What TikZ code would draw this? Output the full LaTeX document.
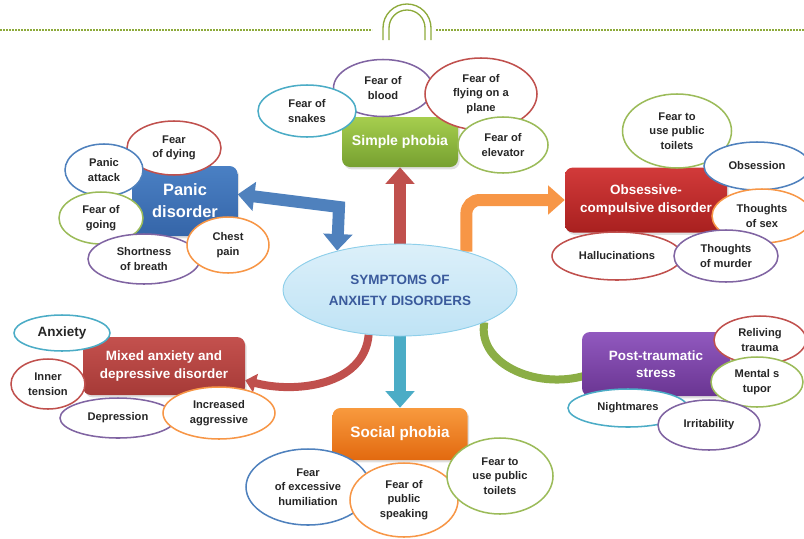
\documentclass[tikz,border=0pt]{standalone}
\usepackage{fontspec}
\setmainfont{Liberation Sans}
\usetikzlibrary{shapes.geometric,arrows.meta,shadows,backgrounds}

\definecolor{ofBlue}{HTML}{4F81BD}
\definecolor{ofRed}{HTML}{C0504D}
\definecolor{ofGreen}{HTML}{9BBB59}
\definecolor{ofPurple}{HTML}{8064A2}
\definecolor{ofCyan}{HTML}{4BACC6}
\definecolor{ofOrange}{HTML}{F79646}
\definecolor{lineGreen}{HTML}{8DAA3B}
\definecolor{hubFill}{HTML}{BFE3F5}
\definecolor{hubEdge}{HTML}{8ECFEA}
\definecolor{hubText}{HTML}{3A5A9C}
% box gradients (top / bottom)
\definecolor{panicTop}{HTML}{4A80C4}   \definecolor{panicBot}{HTML}{3565A8}
\definecolor{simpleTop}{HTML}{A6CE4E}  \definecolor{simpleBot}{HTML}{76A030}
\definecolor{ocdTop}{HTML}{D23A3A}     \definecolor{ocdBot}{HTML}{A8201F}
\definecolor{mixedTop}{HTML}{C4514E}   \definecolor{mixedBot}{HTML}{A63A37}
\definecolor{ptsdTop}{HTML}{9159BF}    \definecolor{ptsdBot}{HTML}{6A3592}
\definecolor{socialTop}{HTML}{F89A3E}  \definecolor{socialBot}{HTML}{E2690F}
\definecolor{curveGreen}{HTML}{8BAE45}

\begin{document}
\begin{tikzpicture}[x=0.3mm, y=-0.3mm,
  sz/.style 2 args={minimum width=#1*0.3mm, minimum height=#2*0.3mm},
  bubble/.style={ellipse, draw=#1, line width=1.3pt, fill=white, inner sep=0pt,
    align=center, text=black!85, font=\fontsize{9.5}{12.5}\selectfont\bfseries},
  topic/.style={rounded corners=2.4mm, top color=#1Top, bottom color=#1Bot, text=white,
    align=center, inner sep=0pt, font=\fontsize{11.5}{15}\selectfont\bfseries,
    drop shadow={opacity=0.25, shadow xshift=0.5mm, shadow yshift=-0.7mm}},
  hub/.style={ellipse, sz={234}{92}, top color=hubFill!55!white, bottom color=hubFill,
    draw=hubEdge, line width=0.8pt, text=hubText, align=center, inner sep=0pt,
    font=\fontsize{11.5}{18}\selectfont\bfseries},
  bigarrow/.style={line width=3.6mm, -{Triangle[length=5mm, width=8.5mm]}},
  curvearrow/.style={line width=2.4mm, -{Triangle[length=3.2mm, width=5.6mm]}}]

  \useasboundingbox (0,0) rectangle (804,538);

  % Header rule with the double arch
  \draw[lineGreen, line width=0.4mm, dash pattern=on 0.6mm off 0.3mm]
    (0,30) -- (372,30) (436,30) -- (804,30);
  \draw[lineGreen, line width=0.4mm]
    (383,40) -- (383,28) .. controls (383,14.7) and (393.7,4) .. (407,4)
    .. controls (420.3,4) and (431,14.7) .. (431,28) -- (431,40);
  \draw[lineGreen, line width=0.4mm]
    (389,40) -- (389,28) .. controls (389,18) and (397,10) .. (407,10)
    .. controls (417,10) and (425,18) .. (425,28) -- (425,40);

  % Centre
  \node[hub] (hub) at (400,290) {SYMPTOMS OF\\ANXIETY DISORDERS};

  % Panic disorder
  \node[topic=panic, sz={105}{70},
    font=\fontsize{14}{19}\selectfont\bfseries] (panic) at (185,201) {Panic\\disorder};
  \node[bubble=ofRed, sz={94}{54}] (dying) at (174,148) {Fear\\of dying};
  \node[bubble=ofBlue, sz={78}{52}] (attack) at (104,170) {Panic\\attack};
  \node[bubble=ofGreen, sz={84}{52}] (going) at (101,218) {Fear of\\going};
  \node[bubble=ofPurple, sz={112}{50}] (breath) at (144,259) {Shortness\\of breath};
  \node[bubble=ofOrange, sz={82}{56}] (chest) at (228,245) {Chest\\pain};

  % Simple phobia
  \node[topic=simple, sz={116}{50},
    font=\fontsize{12}{15}\selectfont\bfseries] (simple) at (400,142) {Simple phobia};
  \node[bubble=ofPurple, sz={99}{57}] (blood) at (383,88) {Fear of\\blood};
  \node[bubble=ofCyan, sz={98}{52}] (snakes) at (307,111) {Fear of\\snakes};
  \node[bubble=ofRed, sz={112}{72}] (flying) at (481,94) {Fear of\\flying on a\\plane};
  \node[bubble=ofGreen, sz={90}{56}] (elevator) at (503,145) {Fear of\\elevator};

  % Obsessive-compulsive disorder
  \node[topic=ocd, sz={162}{65}] (ocd) at (646,200) {Obsessive-\\compulsive disorder};
  \node[bubble=ofGreen, sz={109}{74}] (toilets) at (677,131) {Fear to\\use public\\toilets};
  \node[bubble=ofBlue, sz={106}{48}] (obsession) at (757,166) {Obsession};
  \node[bubble=ofOrange, sz={100}{54}] (sex) at (762,216) {Thoughts\\of sex};
  \node[bubble=ofRed, sz={130}{48}] (halluc) at (617,256) {Hallucinations};
  \node[bubble=ofPurple, sz={104}{52}] (murder) at (726,256) {Thoughts\\of murder};

  % Mixed anxiety and depressive disorder
  \node[topic=mixed, sz={162}{58}] (mixed) at (164,366) {Mixed anxiety and\\depressive disorder};
  \node[bubble=ofCyan, sz={96}{36}, font=\fontsize{11.5}{14}\selectfont\bfseries]
    (anxiety) at (62,333) {Anxiety};
  \node[bubble=ofRed, sz={74}{50}] (tension) at (48,384) {Inner\\tension};
  \node[bubble=ofPurple, sz={116}{40}] (depression) at (118,418) {Depression};
  \node[bubble=ofOrange, sz={112}{52}] (aggressive) at (219,413) {Increased\\aggressive};

  % Post-traumatic stress
  \node[topic=ptsd, sz={148}{64}] (ptsd) at (656,364) {Post-traumatic\\stress};
  \node[bubble=ofRed, sz={92}{48}] (reliving) at (760,340) {Reliving\\trauma};
  \node[bubble=ofGreen, sz={92}{50}] (stupor) at (757,382) {Mental s\\tupor};
  \node[bubble=ofCyan, sz={120}{38}] (nightmares) at (628,408) {Nightmares};
  \node[bubble=ofPurple, sz={102}{50}] (irritability) at (709,425) {Irritability};

  % Social phobia
  \node[topic=social, sz={135}{52},
    font=\fontsize{13}{16}\selectfont\bfseries] (social) at (400,434) {Social phobia};
  \node[bubble=ofBlue, sz={124}{76}] (humiliation) at (308,487) {Fear\\of excessive\\humiliation};
  \node[bubble=ofOrange, sz={108}{74}] (speaking) at (404,500) {Fear of\\public\\speaking};
  \node[bubble=ofGreen, sz={106}{76}] (toiletsb) at (500,476) {Fear to\\use public\\toilets};

  % Connections
  \coordinate (elbow) at (339,207);
  \begin{pgfonlayer}{background}
    \draw[bigarrow, draw=ofRed] (hub.north) -- (simple.south);
    \draw[bigarrow, draw=ofCyan] (hub.south) -- (social.north);
    \draw[bigarrow, draw=ofOrange, rounded corners=4mm] (hub.30) |- (ocd.west);
    \draw[bigarrow, draw=ofBlue,
      {Triangle[length=5mm, width=8.5mm]}-{Triangle[length=5mm, width=8.5mm]}]
      ([yshift=2mm]panic.east) -- (elbow) -- (hub.148);
    \draw[curvearrow, draw=ofRed] (hub.235) to[out=-95, in=-15] (mixed.-10);
    \draw[curvearrow, draw=curveGreen, shorten >=-6mm] (hub.-21) to[out=-100, in=200] (ptsd.-170);
  \end{pgfonlayer}
\end{tikzpicture}
\end{document}
